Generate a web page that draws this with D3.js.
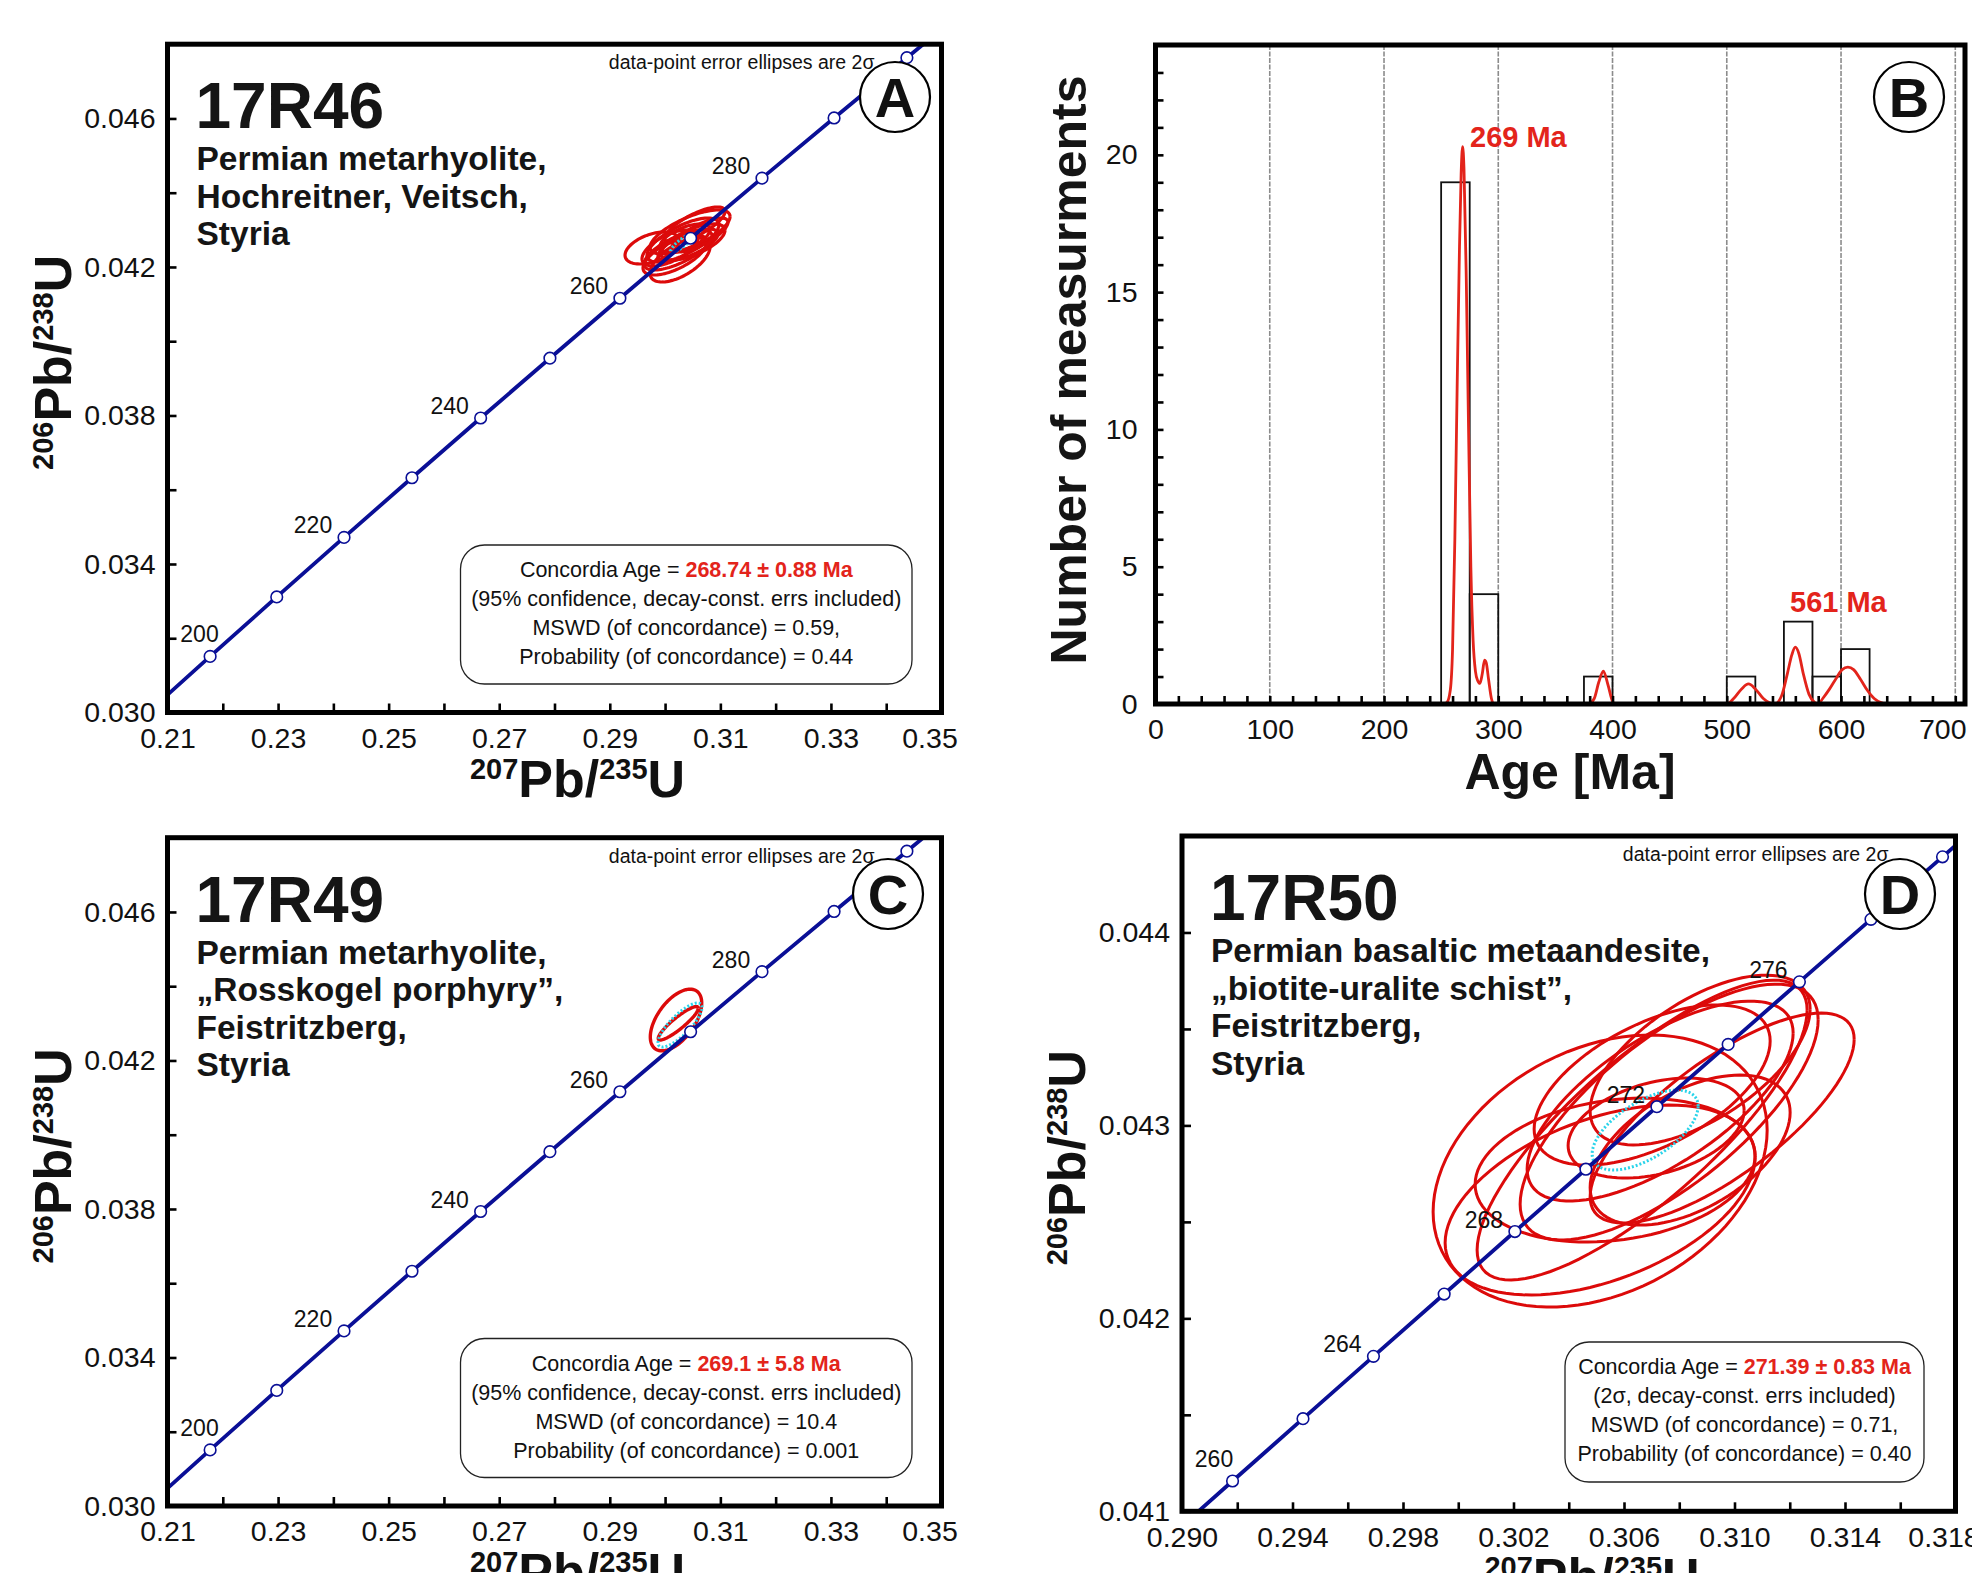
<!DOCTYPE html>
<html>
<head>
<meta charset="utf-8">
<script src="https://cdnjs.cloudflare.com/ajax/libs/d3/7.8.5/d3.min.js"></script>
<style>
  body { margin: 0; background: #fff; }
  svg { display: block; font-family: "Liberation Sans", Arial, sans-serif; }
</style>
</head>
<body>
<svg id="fig" width="1972" height="1573"></svg>
<script>
// ---------- concordia reference curve (ages in Ma, ratios) ----------
const concAges = [190, 200, 210, 220, 230, 240, 250, 260, 270, 280, 290, 300, 310];
const concX = [0.20577, 0.21771, 0.22976, 0.24193, 0.25422, 0.26664, 0.27917, 0.29183, 0.30462, 0.31753, 0.33057, 0.34374, 0.35704];
const concY = [0.029912, 0.031511, 0.033113, 0.034716, 0.036323, 0.037932, 0.039543, 0.041157, 0.042773, 0.044392, 0.046013, 0.047637, 0.049264];
const concLabelsAC = [200, 220, 240, 260, 280];

const concAgesD = [256, 258, 260, 262, 264, 266, 268, 270, 272, 274, 276, 278, 280, 282];
const concXD = [0.28675, 0.28929, 0.29183, 0.29438, 0.29693, 0.29949, 0.30205, 0.30462, 0.30719, 0.30977, 0.31235, 0.31494, 0.31753, 0.32013];
const concYD = [0.040511, 0.040834, 0.041157, 0.041480, 0.041803, 0.042126, 0.042450, 0.042773, 0.043097, 0.043420, 0.043744, 0.044068, 0.044392, 0.044716];
const concLabelsD = [260, 264, 268, 272, 276];

// ---------- 2-sigma error ellipses: centre, half-range, correlation ----------
const ellA_x   = [0.29764, 0.30451, 0.30324, 0.30180, 0.30270, 0.30541, 0.30089, 0.30415, 0.30632, 0.30234, 0.30360, 0.30505];
const ellA_sx  = [0.00488, 0.00724, 0.00651, 0.00579, 0.00543, 0.00543, 0.00506, 0.00543, 0.00506, 0.00615, 0.00452, 0.00579];
const ellA_y   = [0.042511, 0.042942, 0.042726, 0.042322, 0.042188, 0.043130, 0.042511, 0.042592, 0.042861, 0.042457, 0.042780, 0.042673];
const ellA_sy  = [0.000431, 0.000593, 0.000593, 0.000539, 0.000593, 0.000485, 0.000485, 0.000431, 0.000458, 0.000539, 0.000377, 0.000485];
const ellA_rho = [0.45, 0.70, 0.70, 0.65, 0.60, 0.75, 0.60, 0.70, 0.75, 0.70, 0.60, 0.65];
const concEllA = [0.30301, 0.00199, 0.042637, 0.000242, 0.85];

const ellC_x   = [0.30198, 0.30239];
const ellC_sx  = [0.00465, 0.00362];
const ellC_y   = [0.04309, 0.043001];
const ellC_sy  = [0.000830, 0.000450];
const ellC_rho = [0.55, 0.90];
const concEllC = [0.30270, 0.00398, 0.042955, 0.000593, 0.80];

const ellD_x   = [0.305136, 0.305136, 0.305679, 0.306656, 0.307634, 0.307308, 0.307019, 0.307163, 0.309553, 0.308394, 0.308756];
const ellD_sx  = [0.006046, 0.005611, 0.005068, 0.005973, 0.005394, 0.004815, 0.004272, 0.003186, 0.004779, 0.003620, 0.003982];
const ellD_y   = [0.0427635, 0.0426132, 0.0427687, 0.042976, 0.0430693, 0.0431263, 0.0432092, 0.0429863, 0.0430382, 0.0428723, 0.0433387];
const ellD_sy  = [0.000705, 0.000492, 0.000373, 0.000777, 0.000663, 0.000518, 0.000415, 0.000259, 0.000544, 0.000389, 0.000440];
const ellD_rho = [0.30, 0.45, 0.20, 0.80, 0.72, 0.68, 0.55, 0.35, 0.75, 0.50, 0.60];
const concEllD = [0.306765, 0.001919, 0.042976, 0.000207, 0.60];

// ---------- axis ticks ----------
const xTicksAC = [0.21, 0.22, 0.23, 0.24, 0.25, 0.26, 0.27, 0.28, 0.29, 0.30, 0.31, 0.32, 0.33, 0.34, 0.35];
const xLabelsAC = [0.21, 0.23, 0.25, 0.27, 0.29, 0.31, 0.33, 0.35];
const yTicksAC = [0.030, 0.032, 0.034, 0.036, 0.038, 0.040, 0.042, 0.044, 0.046];
const yLabelsAC = [0.030, 0.034, 0.038, 0.042, 0.046];
const xTicksD = [0.290, 0.292, 0.294, 0.296, 0.298, 0.300, 0.302, 0.304, 0.306, 0.308, 0.310, 0.312, 0.314, 0.316, 0.318];
const xLabelsD = [0.290, 0.294, 0.298, 0.302, 0.306, 0.310, 0.314, 0.318];
const yTicksD = [0.041, 0.0415, 0.042, 0.0425, 0.043, 0.0435, 0.044];
const yLabelsD = [0.041, 0.042, 0.043, 0.044];

// ---------- histogram + probability density (panel B) ----------
const binStart = [250, 275, 375, 500, 550, 575, 600];
const binCount = [19, 4, 1, 1, 3, 1, 2];
const binWidth = 25;
const pdfAge = [245, 252, 255, 258, 260, 262, 264, 266, 267.5, 268.8, 270, 272, 274, 276, 278, 280, 282, 284, 286, 288, 289.5, 291.5, 294, 296, 300,
                379, 384, 388, 392, 396, 400, 402,
                500, 506, 513, 519, 525, 532, 538, 542,
                548, 553, 557, 560, 563, 567, 572, 577, 580,
                584, 590, 596, 601, 606, 611, 617, 623, 629, 635, 640, 705];
const pdfDens = [0, 0, 0.05, 0.5, 2, 6, 11.5, 16.5, 19.3, 20.3, 19.5, 15.5, 10, 5, 2.3, 1.2, 0.85, 0.75, 1.1, 1.6, 1.5, 0.9, 0.2, 0, 0,
                 0, 0.2, 0.8, 1.2, 0.7, 0.1, 0,
                 0, 0.2, 0.55, 0.73, 0.55, 0.2, 0.03, 0,
                 0.3, 1.1, 1.8, 2.07, 1.85, 1.1, 0.35, 0.05, 0,
                 0.2, 0.55, 0.95, 1.25, 1.34, 1.25, 0.9, 0.5, 0.2, 0.05, 0, 0];
const xTicksB = d3.range(0, 701, 20);
const xLabelsB = [0, 100, 200, 300, 400, 500, 600, 700];
const yTicksB = d3.range(0, 25, 1);
const yLabelsB = [0, 5, 10, 15, 20];
const gridB = [100, 200, 300, 400, 500, 600, 700];

const RED = "#e3241b", BLUE = "#0a0f96", ELL = "#dc0a0a";
const svg = d3.select("#fig");
svg.append("rect").attr("width", 1972).attr("height", 1573).attr("fill", "#fff");

function ellipsePts(cx, sx, cy, sy, rho) {
  const k = Math.sqrt(1 - rho * rho);
  return d3.range(0, 97).map(i => {
    const t = i / 96 * 2 * Math.PI;
    return [cx + sx * Math.cos(t), cy + sy * (rho * Math.cos(t) + k * Math.sin(t))];
  });
}

function styleAxis(g, size) {
  g.select(".domain").remove();
  g.selectAll(".tick line").attr("stroke", "#000").attr("stroke-width", 2.6);
  g.selectAll(".tick text").attr("font-size", size).attr("fill", "#111")
    .attr("font-family", "'Liberation Sans', Arial, sans-serif");
  g.attr("font-family", null).attr("font-size", null);
}

function axisTitle(g, x, y, rotate, sup1, sup2) {
  const t = g.append("text")
    .attr("transform", `translate(${x},${y})` + (rotate ? " rotate(-90)" : ""))
    .attr("text-anchor", "middle").attr("font-weight", "bold").attr("fill", "#111");
  t.append("tspan").attr("font-size", 29).attr("dy", -18).text(sup1);
  t.append("tspan").attr("font-size", 52).attr("dy", 18).text("Pb/");
  t.append("tspan").attr("font-size", 29).attr("dy", -18).text(sup2);
  t.append("tspan").attr("font-size", 52).attr("dy", 18).text("U");
}

function panelLetter(cx, cy, letter) {
  svg.append("circle").attr("cx", cx).attr("cy", cy).attr("r", 35)
    .attr("fill", "#fff").attr("stroke", "#000").attr("stroke-width", 2.2);
  svg.append("text").attr("x", cx).attr("y", cy + 20).attr("text-anchor", "middle")
    .attr("font-size", 56).attr("font-weight", "bold").attr("fill", "#111").text(letter);
}

function drawConcordia(p) {
  const g = svg.append("g");
  const x = d3.scaleLinear().domain(p.xDomain).range([p.left, p.right]);
  const y = d3.scaleLinear().domain(p.yDomain).range([p.bottom, p.top]);
  const clipId = "clip" + p.id;
  g.append("clipPath").attr("id", clipId).append("rect")
    .attr("x", p.left).attr("y", p.top).attr("width", p.right - p.left).attr("height", p.bottom - p.top);
  const plot = g.append("g").attr("clip-path", `url(#${clipId})`);

  const line = d3.line().x(d => x(d[0])).y(d => y(d[1]));

  // red data ellipses
  p.ex.forEach((cx, i) => {
    plot.append("path")
      .attr("d", line(ellipsePts(cx, p.esx[i], p.ey[i], p.esy[i], p.erho[i])))
      .attr("fill", "none").attr("stroke", ELL).attr("stroke-width", p.ellWidth);
  });
  // concordia age ellipse (dotted cyan)
  const ce = p.concEll;
  plot.append("path").attr("d", line(ellipsePts(ce[0], ce[1], ce[2], ce[3], ce[4])))
    .attr("fill", "none").attr("stroke", "#2ad4ea").attr("stroke-width", 3).attr("stroke-dasharray", "2,2");

  // concordia curve
  const pts = p.cx.map((v, i) => [v, p.cy[i]]);
  plot.append("path").attr("d", line(pts)).attr("fill", "none").attr("stroke", BLUE).attr("stroke-width", 3.8);
  const inside = p.ages.map((a, i) => ({ a, x: p.cx[i], y: p.cy[i] }))
    .filter(d => d.x > p.xDomain[0] && d.x < p.xDomain[1] && d.y > p.yDomain[0] && d.y < p.yDomain[1]);
  plot.selectAll("circle.age").data(inside).enter().append("circle")
    .attr("cx", d => x(d.x)).attr("cy", d => y(d.y)).attr("r", 5.8)
    .attr("fill", "#fff").attr("stroke", BLUE).attr("stroke-width", 1.6);

  // age labels on the curve
  inside.filter(d => p.labels.includes(d.a)).forEach(d => {
    let lx = x(d.x) - 31, ly = y(d.y) - 4;
    if (lx < p.left + 32) { lx = p.left + 32; ly -= 10; }
    g.append("text").attr("x", lx).attr("y", ly).attr("text-anchor", "middle")
      .attr("font-size", 23).attr("fill", "#111").text(d.a);
  });

  // axes (ticks point inward)
  const xa = g.append("g").attr("transform", `translate(0,${p.bottom})`)
    .call(d3.axisBottom(x).tickValues(p.xTicks).tickSizeInner(-9).tickSizeOuter(0).tickPadding(15)
      .tickFormat(d => p.xLabels.some(v => Math.abs(v - d) < 1e-9) ? d3.format(p.xFmt)(d) : ""));
  styleAxis(xa, 28.5);
  xa.selectAll(".tick text").filter((d, i, n) => i === n.length - 1).attr("dx", -12);
  const ya = g.append("g").attr("transform", `translate(${p.left},0)`)
    .call(d3.axisLeft(y).tickValues(p.yTicks).tickSizeInner(-9).tickSizeOuter(0).tickPadding(12)
      .tickFormat(d => p.yLabels.some(v => Math.abs(v - d) < 1e-9) ? d3.format(".3f")(d) : ""));
  styleAxis(ya, 28.5);

  // frame
  g.append("rect").attr("x", p.left).attr("y", p.top).attr("width", p.right - p.left).attr("height", p.bottom - p.top)
    .attr("fill", "none").attr("stroke", "#000").attr("stroke-width", 5);

  // titles
  axisTitle(g, p.left + 410, p.bottom + 84, false, "207", "235");
  axisTitle(g, p.left - 97, (p.top + p.bottom) / 2 - 16, true, "206", "238");

  g.append("text").attr("x", p.right - 67).attr("y", p.top + 25).attr("text-anchor", "end")
    .attr("font-size", 19.5).attr("fill", "#111").text("data-point error ellipses are 2σ");

  g.append("text").attr("x", p.left + 28).attr("y", p.top + 84)
    .attr("font-size", 64).attr("font-weight", "bold").attr("fill", "#151515").text(p.sample);
  p.desc.forEach((s, i) => {
    g.append("text").attr("x", p.left + 29).attr("y", p.top + 126 + i * 37.5)
      .attr("font-size", 33.5).attr("font-weight", "bold").attr("fill", "#151515").text(s);
  });

  // result box
  const b = p.box;
  g.append("rect").attr("x", b[0]).attr("y", b[1]).attr("width", b[2]).attr("height", b[3]).attr("rx", 24)
    .attr("fill", "#fff").attr("stroke", "#222").attr("stroke-width", 1.3);
  const bx = b[0] + b[2] / 2;
  const t0 = g.append("text").attr("x", bx).attr("y", b[1] + 32).attr("text-anchor", "middle")
    .attr("font-size", 21.5).attr("fill", "#111");
  t0.append("tspan").text("Concordia Age = ");
  t0.append("tspan").attr("fill", RED).attr("font-weight", "bold").text(p.age);
  p.boxLines.forEach((s, i) => {
    g.append("text").attr("x", bx).attr("y", b[1] + 61 + i * 29).attr("text-anchor", "middle")
      .attr("font-size", 21.5).attr("fill", "#111").text(s);
  });

  panelLetter(p.letterXY[0], p.letterXY[1], p.letter);
}

drawConcordia({
  id: "A", left: 167.5, right: 941.5, top: 44.2, bottom: 712.5,
  xDomain: [0.21, 0.35], yDomain: [0.030, 0.048],
  xTicks: xTicksAC, xLabels: xLabelsAC, xFmt: ".2f", yTicks: yTicksAC, yLabels: yLabelsAC,
  ages: concAges, cx: concX, cy: concY, labels: concLabelsAC,
  ex: ellA_x, esx: ellA_sx, ey: ellA_y, esy: ellA_sy, erho: ellA_rho, concEll: concEllA, ellWidth: 3.2,
  sample: "17R46",
  desc: ["Permian metarhyolite,", "Hochreitner, Veitsch,", "Styria"],
  box: [460.5, 545, 451.5, 139],
  age: "268.74 ± 0.88 Ma",
  boxLines: ["(95% confidence, decay-const. errs included)", "MSWD (of concordance) = 0.59,", "Probability (of concordance) = 0.44"],
  letter: "A", letterXY: [895, 97]
});

drawConcordia({
  id: "C", left: 167.5, right: 941.5, top: 837.7, bottom: 1506,
  xDomain: [0.21, 0.35], yDomain: [0.030, 0.048],
  xTicks: xTicksAC, xLabels: xLabelsAC, xFmt: ".2f", yTicks: yTicksAC, yLabels: yLabelsAC,
  ages: concAges, cx: concX, cy: concY, labels: concLabelsAC,
  ex: ellC_x, esx: ellC_sx, ey: ellC_y, esy: ellC_sy, erho: ellC_rho, concEll: concEllC, ellWidth: 3.4,
  sample: "17R49",
  desc: ["Permian metarhyolite,", "„Rosskogel porphyry”,", "Feistritzberg,", "Styria"],
  box: [460.5, 1338.5, 451.5, 139],
  age: "269.1 ± 5.8 Ma",
  boxLines: ["(95% confidence, decay-const. errs included)", "MSWD (of concordance) = 10.4", "Probability (of concordance) = 0.001"],
  letter: "C", letterXY: [888, 894]
});

drawConcordia({
  id: "D", left: 1182, right: 1955.5, top: 836, bottom: 1511.3,
  xDomain: [0.290, 0.318], yDomain: [0.041, 0.0445],
  xTicks: xTicksD, xLabels: xLabelsD, xFmt: ".3f", yTicks: yTicksD, yLabels: yLabelsD,
  ages: concAgesD, cx: concXD, cy: concYD, labels: concLabelsD,
  ex: ellD_x, esx: ellD_sx, ey: ellD_y, esy: ellD_sy, erho: ellD_rho, concEll: concEllD, ellWidth: 3,
  sample: "17R50",
  desc: ["Permian basaltic metaandesite,", "„biotite-uralite schist”,", "Feistritzberg,", "Styria"],
  box: [1565, 1342, 359, 140],
  age: "271.39 ± 0.83 Ma",
  boxLines: ["(2σ, decay-const. errs included)", "MSWD (of concordance) = 0.71,", "Probability (of concordance) = 0.40"],
  letter: "D", letterXY: [1900, 894]
});

// ---------- panel B: histogram ----------
(function drawHistogram() {
  const L = 1155.5, R = 1965, T = 45, B = 704;
  const g = svg.append("g");
  const x = d3.scaleLinear().domain([0, 708.5]).range([L, R]);
  const y = d3.scaleLinear().domain([0, 24]).range([B, T]);

  g.selectAll("line.grid").data(gridB).enter().append("line")
    .attr("x1", d => x(d)).attr("x2", d => x(d)).attr("y1", T).attr("y2", B)
    .attr("stroke", "#8c8c8c").attr("stroke-width", 1.6).attr("stroke-dasharray", "5,1.5");

  g.selectAll("rect.bin").data(binStart).enter().append("rect")
    .attr("x", d => x(d)).attr("width", d => x(d + binWidth) - x(d))
    .attr("y", (d, i) => y(binCount[i])).attr("height", (d, i) => B - y(binCount[i]))
    .attr("fill", "none").attr("stroke", "#111").attr("stroke-width", 1.8);

  const pdf = pdfAge.map((a, i) => [a, pdfDens[i]]);
  g.append("path").datum(pdf)
    .attr("d", d3.line().x(d => x(d[0])).y(d => y(d[1])).curve(d3.curveMonotoneX))
    .attr("fill", "none").attr("stroke", RED).attr("stroke-width", 2.8);

  const xa = g.append("g").attr("transform", `translate(0,${B})`)
    .call(d3.axisBottom(x).tickValues(xTicksB).tickSizeInner(-8).tickSizeOuter(0).tickPadding(15)
      .tickFormat(d => xLabelsB.includes(d) ? d : ""));
  styleAxis(xa, 28.5);
  xa.selectAll(".tick text").filter(d => d === 700).attr("dx", -13);
  const ya = g.append("g").attr("transform", `translate(${L},0)`)
    .call(d3.axisLeft(y).tickValues(yTicksB).tickSizeInner(-8).tickSizeOuter(0).tickPadding(18)
      .tickFormat(d => yLabelsB.includes(d) ? d : ""));
  styleAxis(ya, 28.5);

  g.append("rect").attr("x", L).attr("y", T).attr("width", R - L).attr("height", B - T)
    .attr("fill", "none").attr("stroke", "#000").attr("stroke-width", 5);

  g.append("text").attr("x", 1470).attr("y", 147).attr("font-size", 29).attr("font-weight", "bold")
    .attr("fill", RED).text("269 Ma");
  g.append("text").attr("x", 1790).attr("y", 612).attr("font-size", 29).attr("font-weight", "bold")
    .attr("fill", RED).text("561 Ma");

  g.append("text").attr("transform", "translate(1086,370) rotate(-90)").attr("text-anchor", "middle")
    .attr("font-size", 50).attr("font-weight", "bold").attr("fill", "#151515").text("Number of measurments");
  g.append("text").attr("x", 1570).attr("y", 789).attr("text-anchor", "middle")
    .attr("font-size", 50).attr("font-weight", "bold").attr("fill", "#151515").text("Age [Ma]");

  panelLetter(1909, 97, "B");
})();
</script>
</body>
</html>
